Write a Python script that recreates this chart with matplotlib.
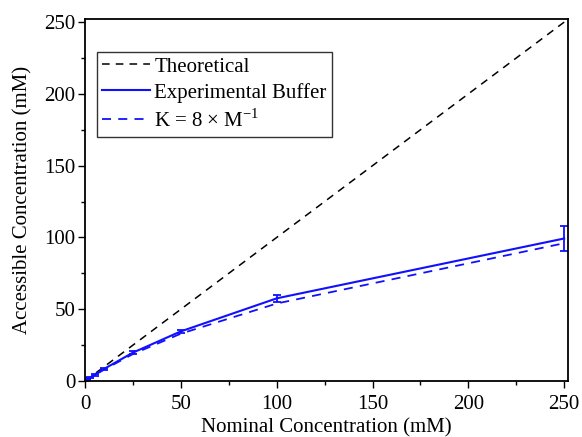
import numpy as np
import matplotlib.pyplot as plt
from matplotlib.ticker import MultipleLocator
from matplotlib.lines import Line2D

plt.rcParams['font.family'] = ['Liberation Serif', 'DejaVu Serif']
plt.rcParams['mathtext.fontset'] = 'custom'
plt.rcParams['mathtext.rm'] = 'Liberation Serif'

# data
nominal = [0, 1, 2.5, 5, 10, 25, 50, 100, 250]
experimental = [0, 1.0, 2.2, 4.3, 8.5, 19.8, 34.6, 57.6, 99.3]
exp_err = [0, 0.3, 0.4, 0.5, 0.7, 0.8, 1.0, 2.5, 9.0]
model_k8 = [0, 0.95, 2.1, 4.1, 8.0, 18.8, 33.0, 54.0, 96.0]
theory_x = [0, 250]
theory_y = [0, 250]

blue = '#1010ff'

fig = plt.figure(figsize=(5.82, 4.37), dpi=100)
ax = fig.add_axes([0.146, 0.128, 0.830, 0.828])

l1, = ax.plot(theory_x, theory_y, color='black', ls=(0, (5, 4)), lw=1.1)
ax.errorbar(nominal, experimental, yerr=exp_err, color=blue, lw=1.5,
            capsize=3, elinewidth=1.3, capthick=1.3)
l3, = ax.plot(nominal, model_k8, color=blue, ls=(0, (5, 4)), lw=1.3)
l2 = Line2D([], [], color=blue, lw=1.5)

ax.set_xlim(0, 252)
ax.set_ylim(0, 252)
ax.xaxis.set_major_locator(MultipleLocator(50))
ax.xaxis.set_minor_locator(MultipleLocator(25))
ax.yaxis.set_major_locator(MultipleLocator(50))
ax.yaxis.set_minor_locator(MultipleLocator(25))
ax.tick_params(which='major', direction='out', length=5, width=1, labelsize=15)
ax.tick_params(axis='x', which='major', pad=5)
ax.tick_params(axis='y', which='major', pad=2)
ax.tick_params(which='minor', direction='out', length=3, width=1)
for s in ax.spines.values():
    s.set_linewidth(1.3)

ax.set_xlabel('Nominal Concentration (mM)', fontsize=15, labelpad=3)
ax.set_ylabel('Accessible Concentration (mM)', fontsize=15, labelpad=8)

leg = ax.legend([l1, l2, l3],
                ['Theoretical', 'Experimental Buffer', 'K = 8 \u00d7 M$^{\\mathregular{-1}}$'],
                loc='upper left', bbox_to_anchor=(0.025, 0.91), borderaxespad=0,
                fontsize=15, frameon=True, fancybox=False, edgecolor='black',
                handlelength=2.3, handletextpad=0.2, borderpad=0.25, labelspacing=0.3)
leg.get_frame().set_linewidth(1.0)

fig.savefig('out.png', dpi=100)
